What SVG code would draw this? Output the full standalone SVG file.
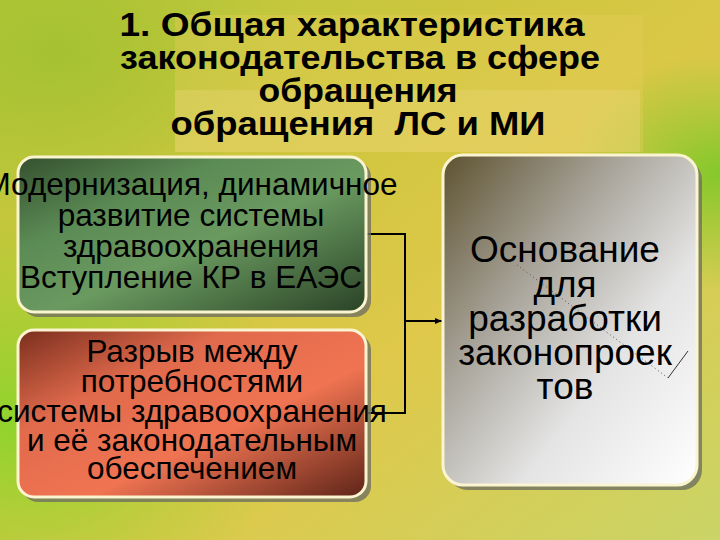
<svg xmlns="http://www.w3.org/2000/svg" width="720" height="540" viewBox="0 0 720 540">
<defs>
<linearGradient id="bg" x1="0" y1="0" x2="1" y2="1">
<stop offset="0" stop-color="#b4c838"/>
<stop offset="0.35" stop-color="#cfc63e"/>
<stop offset="0.6" stop-color="#dfc84a"/>
<stop offset="1" stop-color="#cad466"/>
</linearGradient>
<radialGradient id="gl" cx="0.03" cy="0.78" r="0.38">
<stop offset="0" stop-color="#8cd42c" stop-opacity="0.95"/>
<stop offset="1" stop-color="#8cd42c" stop-opacity="0"/>
</radialGradient>
<radialGradient id="gr" cx="1" cy="0.32" r="0.22">
<stop offset="0" stop-color="#80c828" stop-opacity="0.95"/>
<stop offset="1" stop-color="#80c828" stop-opacity="0"/>
</radialGradient>
<radialGradient id="gt" cx="0.08" cy="0.1" r="0.3">
<stop offset="0" stop-color="#a0c030" stop-opacity="0.8"/>
<stop offset="1" stop-color="#a0c030" stop-opacity="0"/>
</radialGradient>
<linearGradient id="gGreen" x1="0" y1="0" x2="1" y2="1">
<stop offset="0" stop-color="#34502f"/>
<stop offset="0.3" stop-color="#5c8c55"/>
<stop offset="0.55" stop-color="#6a9a60"/>
<stop offset="1" stop-color="#2a4226"/>
</linearGradient>
<linearGradient id="gRed" x1="0" y1="0" x2="1" y2="1">
<stop offset="0" stop-color="#7a2e1e"/>
<stop offset="0.3" stop-color="#e06a4c"/>
<stop offset="0.6" stop-color="#f07452"/>
<stop offset="1" stop-color="#5e2418"/>
</linearGradient>
<linearGradient id="gGray" x1="0" y1="0" x2="1" y2="1">
<stop offset="0" stop-color="#5e5230"/>
<stop offset="0.35" stop-color="#a8a49a"/>
<stop offset="0.65" stop-color="#e4e4e4"/>
<stop offset="1" stop-color="#ffffff"/>
</linearGradient>
<marker id="arr" markerWidth="8" markerHeight="8" refX="7" refY="4" orient="auto" markerUnits="userSpaceOnUse">
<path d="M0,1 L7,4 L0,7 z" fill="#000"/>
</marker>
</defs>
<style>
.box{stroke:#fbf4d0;stroke-width:3}
.sh{fill:#707060;opacity:0.8}
.t{font-family:"Liberation Sans",Arial,sans-serif;fill:#000;text-anchor:middle}
.title{font-size:34px;font-weight:bold}
.lbl{font-size:31.5px}
.big{font-size:37px}
.con{fill:none;stroke:#000;stroke-width:2}
</style>
<rect width="720" height="540" fill="url(#bg)"/>
<rect width="720" height="540" fill="url(#gl)"/>
<rect width="720" height="540" fill="url(#gr)"/>
<rect width="720" height="540" fill="url(#gt)"/>
<rect x="175" y="15" width="468" height="137" fill="#e8cf5c" opacity="0.35"/>
<rect x="175" y="90" width="465" height="62" fill="#f0dc80" opacity="0.3"/>
<g id="title">
<text class="t title" x="352" y="36" textLength="465" lengthAdjust="spacingAndGlyphs">1. Общая характеристика</text>
<text class="t title" x="360" y="69" textLength="480" lengthAdjust="spacingAndGlyphs">законодательства в сфере</text>
<text class="t title" x="358" y="102" textLength="199" lengthAdjust="spacingAndGlyphs">обращения</text>
<text class="t title" x="358" y="135" textLength="375" lengthAdjust="spacingAndGlyphs">обращения&#160; ЛС и МИ</text>
</g>
<g id="connectors">
<polyline class="con" points="366,234 405,234 405,413 366,413"/>
<line class="con" x1="405" y1="321" x2="442" y2="321" marker-end="url(#arr)"/>
</g>
<g id="node-green">
<rect class="sh" x="22" y="161" width="349" height="156" rx="16"/>
<rect class="box" x="18" y="157" width="348" height="155" rx="16" fill="url(#gGreen)"/>
<text class="t lbl" x="191" y="195">Модернизация, динамичное</text>
<text class="t lbl" x="191" y="226">развитие системы</text>
<text class="t lbl" x="191" y="257">здравоохранения</text>
<text class="t lbl" x="191" y="288">Вступление КР в ЕАЭС</text>
</g>
<g id="node-red">
<rect class="sh" x="22" y="334" width="349" height="168" rx="16"/>
<rect class="box" x="18" y="330" width="348" height="167" rx="16" fill="url(#gRed)"/>
<text class="t lbl" x="192" y="362">Разрыв между</text>
<text class="t lbl" x="192" y="392">потребностями</text>
<text class="t lbl" x="192" y="422">системы здравоохранения</text>
<text class="t lbl" x="192" y="451">и её законодательным</text>
<text class="t lbl" x="192" y="479">обеспечением</text>
</g>
<g id="node-gray">
<rect class="sh" x="448" y="160" width="254" height="330" rx="20"/>
<rect class="box" x="443" y="155" width="254" height="330" rx="20" fill="url(#gGray)"/>
<line x1="517" y1="265" x2="668" y2="378" stroke="#555" stroke-width="1" stroke-dasharray="1,3"/>
<line x1="668" y1="378" x2="688" y2="351" stroke="#333" stroke-width="1"/>
<text class="t big" x="565" y="262">Основание</text>
<text class="t big" x="565" y="297">для</text>
<text class="t big" x="565" y="331">разработки</text>
<text class="t big" x="565" y="365">законопроек</text>
<text class="t big" x="565" y="399">тов</text>
</g>
</svg>
